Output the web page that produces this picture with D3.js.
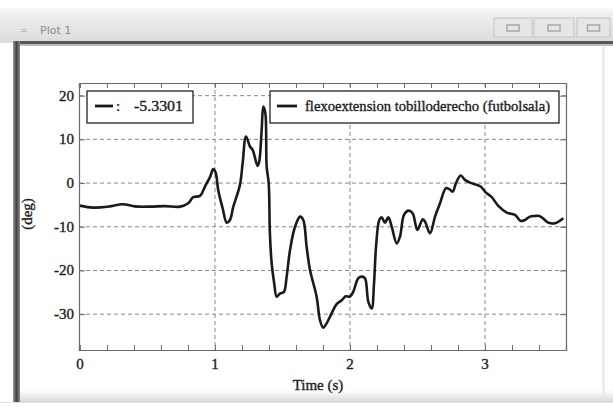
<!DOCTYPE html>
<html>
<head>
<meta charset="utf-8">
<script src="https://cdn.jsdelivr.net/npm/d3@7/dist/d3.min.js"></script>
<style>
html,body{margin:0;padding:0;background:#fff;}
svg{display:block;}
</style>
</head>
<body>
<svg id="chart" width="613" height="409"></svg>
<script>
// ---- data ----
const timeS = [0,0.096,0.222,0.319,0.407,0.519,0.63,0.741,0.802,0.839,0.889,0.926,0.963,0.987,1.005,1.024,1.057,1.087,1.111,1.136,1.185,1.205,1.23,1.259,1.279,1.316,1.328,1.346,1.358,1.373,1.383,1.398,1.407,1.42,1.439,1.457,1.481,1.511,1.531,1.556,1.593,1.63,1.654,1.679,1.704,1.753,1.778,1.802,1.827,1.864,1.901,1.939,1.97,2.0,2.024,2.061,2.087,2.111,2.136,2.161,2.178,2.193,2.217,2.235,2.259,2.284,2.309,2.346,2.37,2.4,2.432,2.464,2.499,2.539,2.556,2.593,2.63,2.667,2.711,2.736,2.761,2.785,2.82,2.852,2.889,2.939,2.968,3.007,3.05,3.099,3.161,3.222,3.264,3.296,3.333,3.37,3.402,3.432,3.469,3.519,3.556,3.58];
const angleDeg = [-5.16,-5.62,-5.34,-4.84,-5.34,-5.39,-5.28,-5.39,-4.61,-3.23,-2.94,-0.8,1.35,3.19,2.41,-1.56,-5.76,-9.06,-8.44,-5.39,-0.41,4.56,10.67,8.37,7.61,3.94,4.93,12.2,17.5,16.0,3.78,-0.02,-11.5,-18.4,-23.0,-26.0,-25.3,-24.9,-21.4,-15.3,-10.0,-7.68,-8.44,-14.6,-19.9,-26.0,-31.4,-33.1,-32.1,-29.8,-27.7,-26.8,-25.9,-26.0,-24.9,-21.8,-21.4,-21.8,-27.2,-28.7,-23.0,-14.6,-8.44,-7.82,-9.06,-7.82,-9.98,-13.8,-12.3,-7.29,-6.31,-6.9,-10.7,-8.28,-8.83,-11.5,-7.68,-4.61,-1.17,-1.4,-1.95,-0.02,1.72,0.73,0.11,-0.41,-0.8,-2.18,-3.23,-5.23,-6.77,-7.29,-8.67,-8.44,-7.68,-7.52,-7.52,-8.14,-9.06,-9.2,-8.6,-8.05];
const xTicks = [0,1,2,3];
const xMinorTicks = [0,0.2,0.4,0.6,0.8,1,1.2,1.4,1.6,1.8,2,2.2,2.4,2.6,2.8,3,3.2,3.4];
const yTicks = [20,10,0,-10,-20,-30];
const legendValue = "-5.3301";
const seriesName = "flexoextension tobilloderecho (futbolsala)";
const windowTitle = "Plot 1";
const xLabel = "Time (s)";
const yLabel = "(deg)";

// ---- layout ----
const svg = d3.select("#chart");
const W = 613, H = 409;
const L = 79, R = 566, T = 83, B = 350;
const FONT = "'Liberation Serif','Times New Roman',serif";
const TXT = "#1c1c1c";
function styleText(sel, size){
  return sel.attr("font-family",FONT).attr("font-size",size).attr("fill",TXT)
    .attr("stroke",TXT).attr("stroke-width",0.35);
}

const defs = svg.append("defs");
const tg = defs.append("linearGradient").attr("id","tb").attr("x1",0).attr("y1",0).attr("x2",0).attr("y2",1);
tg.append("stop").attr("offset","0%").attr("stop-color","#ffffff");
tg.append("stop").attr("offset","20%").attr("stop-color","#eeeeee");
tg.append("stop").attr("offset","100%").attr("stop-color","#dcdcdc");
const lg = defs.append("linearGradient").attr("id","lb").attr("x1",0).attr("y1",0).attr("x2",1).attr("y2",0);
lg.append("stop").attr("offset","0%").attr("stop-color","#9a9a9a");
lg.append("stop").attr("offset","50%").attr("stop-color","#444");
lg.append("stop").attr("offset","100%").attr("stop-color","#8a8a8a");
const bg = defs.append("linearGradient").attr("id","bb").attr("x1",0).attr("y1",0).attr("x2",0).attr("y2",1);
bg.append("stop").attr("offset","0%").attr("stop-color","#ffffff");
bg.append("stop").attr("offset","100%").attr("stop-color","#d8d8d8");

// window chrome
svg.append("rect").attr("x",0).attr("y",0).attr("width",W).attr("height",H).attr("fill","#fff");
svg.append("rect").attr("x",0).attr("y",6).attr("width",W).attr("height",37).attr("fill","url(#tb)");
svg.append("text").attr("x",20).attr("y",33).attr("font-family","'DejaVu Sans',sans-serif").attr("font-size",9).attr("fill","#9a9a9a").text("=");
svg.append("text").attr("x",40).attr("y",34).attr("font-family","'DejaVu Sans',sans-serif").attr("font-size",11).attr("fill","#8c8c8c").text(windowTitle);
const btns = [[494,38],[534,40],[577,33]];
btns.forEach(([bx,bw],i)=>{
  svg.append("rect").attr("x",bx).attr("y",18).attr("width",bw).attr("height",19).attr("fill","#e6e6e6").attr("stroke","#c4c4c4");
  svg.append("rect").attr("x",bx+bw/2-6).attr("y",25).attr("width",12).attr("height",6).attr("fill","none").attr("stroke","#a8a8a8").attr("stroke-width",1.5);
});
svg.append("rect").attr("x",13).attr("y",41).attr("width",W-13).attr("height",3).attr("fill","#555");
svg.append("rect").attr("x",13).attr("y",44).attr("width",W-13).attr("height",2).attr("fill","#bbb");
svg.append("rect").attr("x",13).attr("y",41).attr("width",7).attr("height",361).attr("fill","url(#lb)");
svg.append("rect").attr("x",20).attr("y",390).attr("width",W-20).attr("height",12).attr("fill","url(#bb)");
svg.append("rect").attr("x",0).attr("y",402).attr("width",W).attr("height",1).attr("fill","#e2e2e2");
svg.append("rect").attr("x",602).attr("y",46).attr("width",3).attr("height",350).attr("fill","#ececec");

// scales
const x = d3.scaleLinear().domain([-0.007, 3.6]).range([L, R]);
const y = d3.scaleLinear().domain([-38.2, 22.9]).range([B, T]);

const g = svg.append("g");
g.append("rect").attr("x",L).attr("y",T).attr("width",R-L).attr("height",B-T).attr("fill","#fff");

// gridlines
g.selectAll(".hg").data(yTicks).join("line")
  .attr("x1",L).attr("x2",R).attr("y1",d=>y(d)).attr("y2",d=>y(d))
  .attr("stroke","#888").attr("stroke-width",1).attr("stroke-dasharray","4,3");
g.selectAll(".vg").data(xTicks.filter(d=>d>0)).join("line")
  .attr("x1",d=>x(d)).attr("x2",d=>x(d)).attr("y1",T).attr("y2",B)
  .attr("stroke","#888").attr("stroke-width",1).attr("stroke-dasharray","4,3");

// axes with inside ticks
const axB = d3.axisBottom(x).tickValues(xMinorTicks).tickSize(-5).tickFormat("");
const axT = d3.axisTop(x).tickValues(xMinorTicks).tickSize(-5).tickFormat("");
const axL = d3.axisLeft(y).tickValues(yTicks).tickSize(-6).tickFormat("");
const axR = d3.axisRight(y).tickValues(yTicks).tickSize(-6).tickFormat("");
[[axB,`translate(0,${B})`],[axT,`translate(0,${T})`],[axL,`translate(${L},0)`],[axR,`translate(${R},0)`]].forEach(([a,t])=>{
  const ag = g.append("g").attr("transform",t).call(a);
  ag.select(".domain").attr("stroke","#6a6a6a").attr("stroke-width",1.2);
  ag.selectAll(".tick line").attr("stroke","#6a6a6a");
});

// tick labels
styleText(g.selectAll(".xl").data(xTicks).join("text"), 15)
  .attr("x",d=>x(d)).attr("y",369).attr("text-anchor","middle").text(d=>d);
styleText(g.selectAll(".yl").data(yTicks).join("text"), 15)
  .attr("x",L-5).attr("y",d=>y(d)+5).attr("text-anchor","end").text(d=>d);

styleText(g.append("text"), 15).attr("x",318).attr("y",390).attr("text-anchor","middle").text(xLabel);
styleText(g.append("text"), 15).attr("transform","translate(32,214) rotate(-90)").attr("text-anchor","middle").text(yLabel);

// line
const data = timeS.map((t,i)=>({t, v: angleDeg[i]}));
g.append("path").datum(data)
  .attr("fill","none").attr("stroke","#1a1a1a").attr("stroke-width",2.6).attr("stroke-linejoin","round")
  .attr("d", d3.line().x(d=>x(d.t)).y(d=>y(d.v)).curve(d3.curveCatmullRom.alpha(0.5)));

// legends
const lg1 = g.append("g");
lg1.append("rect").attr("x",87).attr("y",91).attr("width",106).attr("height",32).attr("fill","#fff").attr("stroke","#222").attr("stroke-width",1.3);
lg1.append("line").attr("x1",95).attr("x2",113).attr("y1",106).attr("y2",106).attr("stroke","#1a1a1a").attr("stroke-width",2.8);
styleText(lg1.append("text"), 15).attr("x",116).attr("y",111).text(":");
styleText(lg1.append("text"), 15).attr("x",134).attr("y",111)
  .attr("textLength",49).attr("lengthAdjust","spacingAndGlyphs").text(legendValue);

const lg2 = g.append("g");
lg2.append("rect").attr("x",270).attr("y",91).attr("width",289).attr("height",32).attr("fill","#fff").attr("stroke","#222").attr("stroke-width",1.3);
lg2.append("line").attr("x1",277).attr("x2",297).attr("y1",106).attr("y2",106).attr("stroke","#1a1a1a").attr("stroke-width",2.8);
styleText(lg2.append("text"), 14.5).attr("x",305).attr("y",111)
  .attr("textLength",245).attr("lengthAdjust","spacingAndGlyphs").text(seriesName);
</script>
</body>
</html>
